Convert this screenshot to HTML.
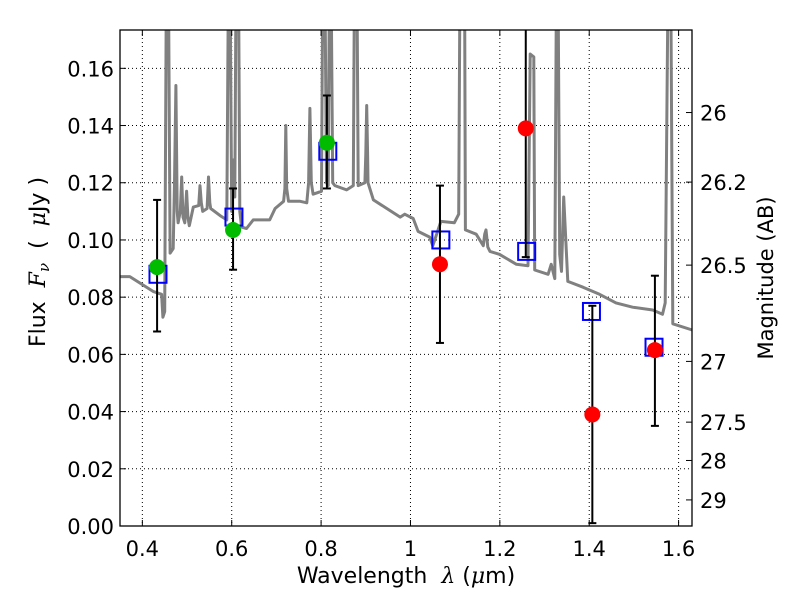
<!DOCTYPE html>
<html><head><meta charset="utf-8"><style>
body{margin:0;background:#fff;}
svg text{font-family:"DejaVu Sans","Liberation Sans",sans-serif;}
</style></head><body>
<svg id="chart" width="800" height="600" xmlns="http://www.w3.org/2000/svg">
<defs><clipPath id="clip"><rect x="120" y="30" width="572" height="496"/></clipPath></defs>
<rect x="0" y="0" width="800" height="600" fill="#fff"/>
<g id="grid"></g>
<g id="spec" clip-path="url(#clip)"></g>
<g id="marks" clip-path="url(#clip)"></g>
<rect x="120" y="30" width="572" height="496" fill="none" stroke="#000" stroke-width="1.3"/>
<g id="axes"></g>
<text x="406" y="583" font-size="22" text-anchor="middle">Wavelength&#160;&#160;<tspan font-family="DejaVu Serif" font-style="italic">λ</tspan> (<tspan font-family="DejaVu Serif" font-style="italic">μ</tspan>m)</text>
<text transform="translate(45,262) rotate(-90)" font-size="22" text-anchor="middle">Flux&#160;&#160;<tspan font-family="DejaVu Serif" font-style="italic">F</tspan><tspan font-family="DejaVu Serif" font-style="italic" font-size="15" dy="4">ν</tspan><tspan dy="-4">&#160;&#160;(&#160;&#160;</tspan><tspan font-family="DejaVu Serif" font-style="italic">μ</tspan>Jy )</text>
<text transform="translate(773,278) rotate(-90)" font-size="21" text-anchor="middle">Magnitude (AB)</text>
</svg>
<script>
const xTicks=[0.4,0.6,0.8,1.0,1.2,1.4,1.6];
const xTickLabels=["0.4","0.6","0.8","1","1.2","1.4","1.6"];
const yTicks=[0,0.02,0.04,0.06,0.08,0.10,0.12,0.14,0.16];
const yTickLabels=["0.00","0.02","0.04","0.06","0.08","0.10","0.12","0.14","0.16"];
const magTicks=[26,26.2,26.5,27,27.5,28,29];
const magTickLabels=["26","26.2","26.5","27","27.5","28","29"];
const specLam=[0.35,0.372,0.424,0.443,0.446,0.450,0.454,0.458,0.462,0.469,0.472,0.475,0.478,0.48,0.485,0.488,0.491,0.495,0.499,0.502,0.505,0.514,0.526,0.529,0.532,0.535,0.545,0.548,0.551,0.553,0.574,0.589,0.593,0.596,0.600,0.604,0.607,0.610,0.612,0.615,0.618,0.622,0.633,0.648,0.685,0.697,0.716,0.719,0.721,0.723,0.727,0.753,0.768,0.772,0.775,0.778,0.782,0.801,0.804,0.808,0.812,0.816,0.819,0.822,0.826,0.831,0.857,0.872,0.875,0.877,0.880,0.883,0.898,0.900,0.902,0.904,0.905,0.917,0.947,0.977,0.987,1.006,1.017,1.043,1.050,1.068,1.098,1.108,1.111,1.121,1.123,1.147,1.163,1.166,1.169,1.173,1.178,1.199,1.237,1.263,1.268,1.276,1.278,1.308,1.315,1.323,1.327,1.330,1.334,1.338,1.343,1.352,1.386,1.423,1.460,1.497,1.542,1.564,1.57,1.577,1.582,1.587,1.627,1.64];
const specFlux=[0.0872,0.0872,0.082,0.081,0.073,0.075,0.2,0.2,0.0954,0.097,0.12,0.154,0.11,0.106,0.11,0.122,0.108,0.106,0.117,0.108,0.105,0.1115,0.112,0.119,0.113,0.110,0.111,0.122,0.113,0.111,0.1085,0.107,0.2,0.2,0.11,0.128,0.115,0.2,0.2,0.2,0.11,0.1045,0.104,0.107,0.107,0.111,0.1135,0.118,0.140,0.118,0.1135,0.1135,0.113,0.12,0.146,0.12,0.116,0.117,0.2,0.2,0.12,0.119,0.2,0.2,0.12,0.119,0.1175,0.119,0.2,0.2,0.2,0.119,0.12,0.13,0.147,0.13,0.12,0.114,0.111,0.108,0.109,0.1075,0.103,0.101,0.098,0.1065,0.106,0.109,0.2,0.2,0.1035,0.102,0.098,0.102,0.1035,0.0975,0.096,0.095,0.0915,0.091,0.165,0.164,0.0895,0.088,0.0915,0.0865,0.2,0.2,0.095,0.089,0.115,0.0855,0.0835,0.081,0.078,0.0765,0.0755,0.074,0.078,0.2,0.2,0.0707,0.0687,0.068];
const modelLam=[0.435,0.605,0.815,1.068,1.260,1.405,1.545];
const modelFlux=[0.088,0.108,0.131,0.100,0.096,0.075,0.0625];
const detLam=[0.433,0.603,0.813];
const detFlux=[0.0905,0.1035,0.134];
const detLo=[0.068,0.0896,0.118];
const detHi=[0.114,0.118,0.1505];
const obsLam=[1.066,1.258,1.407,1.547];
const obsFlux=[0.0915,0.139,0.039,0.0615];
const obsLo=[0.064,0.094,0.001,0.035];
const obsHi=[0.119,0.19,0.077,0.0875];

const NS='http://www.w3.org/2000/svg';
const X0=120,X1=692,Y0=526,Y1=30,xmin=0.35,xmax=1.63,ymin=0,ymax=0.1734;
const sx=v=>X0+(v-xmin)/(xmax-xmin)*(X1-X0);
const sy=v=>Y0-(v-ymin)/(ymax-ymin)*(Y0-Y1);
const magToFlux=m=>Math.pow(10,-(m-23.9)/2.5);
function mk(tag,attrs,parent){const e=document.createElementNS(NS,tag);for(const k in attrs)e.setAttribute(k,attrs[k]);parent.appendChild(e);return e;}
const grid=document.getElementById('grid'),axes=document.getElementById('axes'),spec=document.getElementById('spec'),marks=document.getElementById('marks');
xTicks.forEach((t,i)=>{
 const x=sx(t);
 const g=mk('line',{x1:x,x2:x,y1:Y1,y2:Y0,stroke:'#000','stroke-width':1,'stroke-dasharray':'1,3'},grid);
 
 
 const tk=mk('line',{x1:x,x2:x,y1:Y0,y2:Y0-6,stroke:'#000','stroke-width':1},axes);
 
 
 const tk2=mk('line',{x1:x,x2:x,y1:Y1,y2:Y1+6,stroke:'#000','stroke-width':1},axes);
 
 
 const tx=mk('text',{x:x,y:556,'font-size':21,'text-anchor':'middle'},axes);
 tx.textContent=xTickLabels[i];
 
 
});
yTicks.forEach((t,i)=>{
 const y=sy(t);
 const g=mk('line',{x1:X0,x2:X1,y1:y,y2:y,stroke:'#000','stroke-width':1,'stroke-dasharray':'1,3'},grid);
 
 
 const tk=mk('line',{x1:X0,x2:X0+6,y1:y,y2:y,stroke:'#000','stroke-width':1},axes);
 
 
 const tx=mk('text',{x:114,y:y+8,'font-size':21,'text-anchor':'end'},axes);
 tx.textContent=yTickLabels[i];
 
 
});
magTicks.forEach((m,i)=>{
 const y=sy(magToFlux(m));
 const tk=mk('line',{x1:X1,x2:X1-6,y1:y,y2:y,stroke:'#000','stroke-width':1},axes);
 
 
 const tx=mk('text',{x:700,y:y+8,'font-size':21,'text-anchor':'start'},axes);
 tx.textContent=magTickLabels[i];
 
 
});
const pts=specLam.map((l,i)=>sx(l).toFixed(1)+','+sy(specFlux[i]).toFixed(1)).join(' ');
const pl=mk('polyline',{points:pts,fill:'none',stroke:'#808080','stroke-width':3,'stroke-linejoin':'round'},spec);


function errbar(l,lo,hi){
 const x=sx(l);
 const v=mk('line',{x1:x,x2:x,y1:sy(lo),y2:sy(hi),stroke:'#000','stroke-width':2},marks);
 
 
 [lo,hi].forEach(e=>{const c=mk('line',{x1:x-4,x2:x+4,y1:sy(e),y2:sy(e),stroke:'#000','stroke-width':2},marks);
 
 });
}
modelLam.forEach((l,i)=>{
 const s=mk('rect',{x:sx(l)-8.5,y:sy(modelFlux[i])-8.5,width:17,height:17,fill:'none',stroke:'#0000ff','stroke-width':2},marks);
 
 
});
detLam.forEach((l,i)=>{
 errbar(l,detLo[i],detHi[i]);
 const c=mk('circle',{cx:sx(l),cy:sy(detFlux[i]),r:8,fill:'#00bb00'},marks);
 
 
});
obsLam.forEach((l,i)=>{
 errbar(l,obsLo[i],obsHi[i]);
 const c=mk('circle',{cx:sx(l),cy:sy(obsFlux[i]),r:8,fill:'#ff0000'},marks);
 
 
});
</script>
</body></html>
